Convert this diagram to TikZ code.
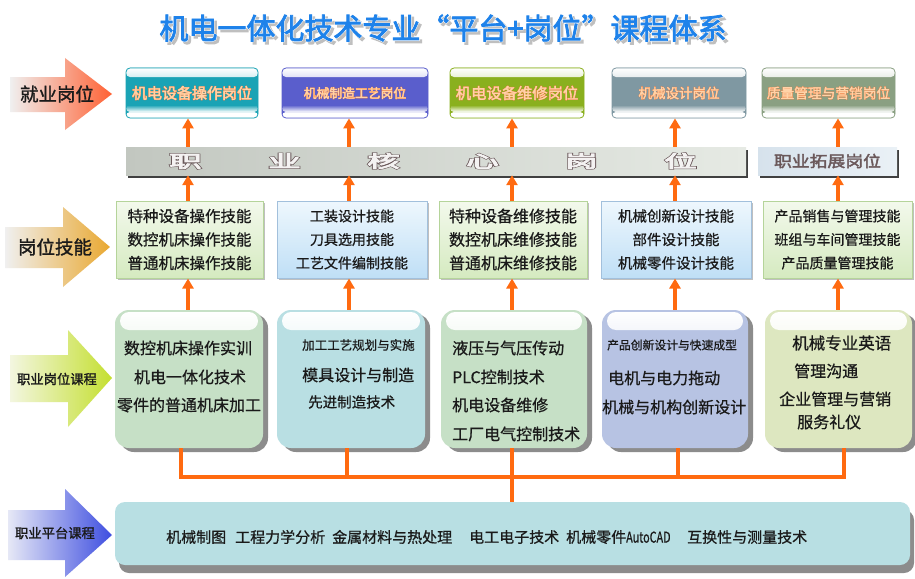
\documentclass[tikz,border=0pt]{standalone}
\usepackage{fontspec}
\usepackage{graphicx}
\setmainfont{Noto Sans CJK SC}
\newfontfamily\cjkb[FakeBold=1.4]{Noto Sans CJK SC}
\newfontfamily\cjkm[FakeBold=0.7]{Noto Sans CJK SC}
\newfontfamily\olJobD[FakeBold=5.5]{Noto Sans CJK SC}
\newfontfamily\olJobW[FakeBold=2]{Noto Sans CJK SC}
\newfontfamily\olCoreD[FakeBold=10]{Noto Sans CJK SC}
\newfontfamily\olCoreW[FakeBold=4.4]{Noto Sans CJK SC}
\newfontfamily\extfont[FakeBold=2.2]{Noto Sans CJK SC}
\newfontfamily\olTitleD[FakeBold=6]{Noto Sans CJK SC}
\newfontfamily\olTitle[FakeBold=2.6]{Noto Sans CJK SC}
\usetikzlibrary{arrows.meta,shadows}

\definecolor{ttl}{HTML}{1E82EA}
\definecolor{jteal}{HTML}{1AA3B5}
\definecolor{jpurp}{HTML}{5A5ECC}
\definecolor{jolive}{HTML}{8AB01E}
\definecolor{jgray}{HTML}{7F98A2}
\definecolor{jsage}{HTML}{8AA082}
\definecolor{jtxt}{HTML}{FFD3A8}
\definecolor{jout}{HTML}{EC7234}
\definecolor{org}{HTML}{FF6A10}
\definecolor{sgt}{HTML}{F3F9EC}
\definecolor{sgb}{HTML}{D5EAC0}
\definecolor{sgd}{HTML}{B5D49A}
\definecolor{sbt}{HTML}{EEF7FD}
\definecolor{sbb}{HTML}{BFDFF6}
\definecolor{sbd}{HTML}{A2C0DC}
\definecolor{cgreen}{HTML}{C6E0C6}
\definecolor{ccyan}{HTML}{B9DFE3}
\definecolor{clav}{HTML}{B7C3E3}
\definecolor{colive}{HTML}{DDE7C0}
\definecolor{pcyan}{HTML}{B8DFE3}
\definecolor{coreout}{HTML}{6A585A}
\definecolor{corefill}{HTML}{F4F2F2}
\definecolor{txt}{HTML}{1A1A1A}

\newcommand\fs[1]{\fontsize{#1}{#1}\selectfont}
% outline colour, outline font, fill colour, fill font, text
\newcommand\twolayer[5]{\rlap{\color{#1}#2#5}{\color{#3}#4#5}}
\newcommand\corech[1]{\makebox[99pt]{\scalebox{1.9}[1]{\twolayer{coreout}{\olCoreD}{corefill}{\olCoreW}{#1}}}}
\newcommand\jobtxt[1]{\twolayer{jout}{\olJobD}{jtxt}{\olJobW}{#1}}

\begin{document}
\begin{tikzpicture}[x=1pt,y=-1pt,
  lab/.style={text=txt, inner sep=0pt},
  jobbox/.style={draw=#1, line width=0.8pt, rounded corners=4pt,
    minimum height=50pt, inner sep=0pt, fill=#1,
    path picture={
      \fill[top color=white, bottom color=#1]
        (path picture bounding box.north west) rectangle
        ([yshift=-9pt]path picture bounding box.north east);
      \fill[white] (path picture bounding box.south west) rectangle
        ([yshift=6pt]path picture bounding box.south east);
      \fill[top color=#1, bottom color=white]
        ([yshift=13pt]path picture bounding box.south west) rectangle
        ([yshift=6pt]path picture bounding box.south east);
    }},
  skillg/.style={draw=sgd, line width=1pt, top color=sgt, bottom color=sgb,
    minimum height=77pt, inner sep=0pt, text=txt, align=center,
    drop shadow={shadow xshift=1.5pt, shadow yshift=-1.5pt, fill=black!25, opacity=1}},
  skillb/.style={draw=sbd, line width=1pt, top color=sbt, bottom color=sbb,
    minimum height=77pt, inner sep=0pt, text=txt, align=center,
    drop shadow={shadow xshift=1.5pt, shadow yshift=-1.5pt, fill=black!25, opacity=1}},
  cbox/.style={fill=#1, rounded corners=14pt, minimum height=138pt, inner sep=0pt,
    drop shadow={shadow xshift=5pt, shadow yshift=-4pt, fill=black!45, opacity=1},
    path picture={
      \fill[top color=white, bottom color=#1, rounded corners=9pt]
        ([xshift=5pt,yshift=-2pt]path picture bounding box.north west) rectangle
        ([xshift=-5pt,yshift=-20pt]path picture bounding box.north east);
    }},
  ctext/.style={text=txt, inner sep=0pt, font=\cjkm},
  uparr/.style={draw=org, line width=3.5pt, -{Triangle[width=11pt,length=10pt]}},
  bus/.style={draw=org, line width=4.5pt, line join=miter},
  ptext/.style={text=txt, inner sep=0pt, anchor=west, font=\cjkm\fs{15}}
]
\useasboundingbox (0,0) rectangle (915,578);
\fill[white] (0,0) rectangle (915,578);

% ---------- title ----------
\node[text=black!25, inner sep=0pt] (titlesh) at (445.5,30.5)
  {\olTitleD\fs{29}机电一体化技术专业“平台+岗位”课程体系};
\node[text=ttl, inner sep=0pt] (title) at (443,28)
  {\fs{29}\twolayer{white}{\olTitleD}{ttl}{\olTitle}{机电一体化技术专业“平台+岗位”课程体系}};

% ---------- left arrows ----------
\path[left color=black!6!white, right color=red!55!orange!80!white]
  (10,77) -- (65,77) -- (65,58) -- (112,94) -- (65,130) -- (65,112) -- (10,112) -- cycle;
\node[lab] (a1) at (57,94) {\cjkb\fs{18.5}就业岗位};

\path[left color=black!6!white, right color={rgb,255:red,233;green,168;blue,48}]
  (5,227) -- (63,227) -- (63,207) -- (110,247) -- (63,287) -- (63,268) -- (5,268) -- cycle;
\node[lab] (a2) at (55,247) {\cjkb\fs{18.5}岗位技能};

\path[left color={rgb,255:red,243;green,246;blue,224}, right color={rgb,255:red,196;green,223;blue,48}]
  (10,355) -- (68,355) -- (68,330) -- (112,378) -- (68,427) -- (68,402) -- (10,402) -- cycle;
\node[lab] (a3) at (57,379) {\cjkb\fs{13.3}职业岗位课程};

\path[left color={rgb,255:red,230;green,232;blue,246}, right color={rgb,255:red,62;green,78;blue,224}]
  (8,510) -- (65,510) -- (65,489) -- (112,535) -- (65,577) -- (65,560) -- (8,560) -- cycle;
\node[lab] (a4) at (55,533) {\cjkb\fs{13.3}职业平台课程};

% ---------- job boxes ----------
\node[jobbox=jteal, minimum width=132pt] (j1) at (192,93) {\fs{15}\jobtxt{机电设备操作岗位}};
\node[jobbox=jpurp, minimum width=146pt] (j2) at (355,93) {\fs{12.8}\jobtxt{机械制造工艺岗位}};
\node[jobbox=jolive, minimum width=134pt] (j3) at (517,93) {\fs{15.3}\jobtxt{机电设备维修岗位}};
\node[jobbox=jgray, minimum width=134pt] (j4) at (679,93) {\fs{13.5}\jobtxt{机械设计岗位}};
\node[jobbox=jsage, minimum width=133pt] (j5) at (828.5,93) {\fs{13.7}\jobtxt{质量管理与营销岗位}};

% ---------- core band ----------
\node[left color={rgb,255:red,194;green,199;blue,192}, right color={rgb,255:red,230;green,234;blue,228},
  minimum width=620pt, minimum height=28pt, inner sep=0pt,
  drop shadow={shadow xshift=2pt, shadow yshift=-3pt, fill=black!75, opacity=1}] (core) at (436,161) {};
\node[inner sep=0pt] (coretxt) at (433,161)
  {\fs{17}\corech{职}\corech{业}\corech{核}\corech{心}\corech{岗}\corech{位}};
\node[left color={rgb,255:red,214;green,226;blue,236}, right color={rgb,255:red,234;green,241;blue,246},
  minimum width=139pt, minimum height=28pt, inner sep=0pt, text=coreout,
  drop shadow={shadow xshift=2pt, shadow yshift=-3pt, fill=black!75, opacity=1}] (ext) at (827.5,161)
  {\extfont\fs{15.5}\scalebox{1.15}[1]{职业拓展岗位}};

% ---------- skill boxes ----------
\node[skillg, minimum width=147pt, font={\cjkm\fontsize{15.5}{23.5}\selectfont}] (s1) at (189.5,239.5)
  {特种设备操作技能\\数控机床操作技能\\普通机床操作技能};
\node[skillb, minimum width=150pt, font={\cjkm\fontsize{14}{23.5}\selectfont}] (s2) at (352,239.5)
  {工装设计技能\\刀具选用技能\\工艺文件编制技能};
\node[skillg, minimum width=148pt, font={\cjkm\fontsize{16}{23.5}\selectfont}] (s3) at (513,239.5)
  {特种设备维修技能\\数控机床维修技能\\普通机床维修技能};
\node[skillb, minimum width=150pt, font={\cjkm\fontsize{14.5}{23.5}\selectfont}] (s4) at (676,239.5)
  {机械创新设计技能\\部件设计技能\\机械零件设计技能};
\node[skillg, minimum width=149pt, font={\cjkm\fontsize{14}{23.5}\selectfont}] (s5) at (837.5,239.5)
  {产品销售与管理技能\\班组与车间管理技能\\产品质量管理技能};

% ---------- course boxes ----------
\node[cbox=cgreen, minimum width=148pt] (c1) at (189,379) {};
\node[cbox=ccyan,  minimum width=148pt] (c2) at (351,379) {};
\node[cbox=cgreen, minimum width=146pt] (c3) at (514,379) {};
\node[cbox=clav,   minimum width=146pt] (c4) at (675,379) {};
\node[cbox=colive, minimum width=147pt] (c5) at (838.5,379) {};

\node[ctext] (c1a) at (188,348) {\fs{16}数控机床操作实训};
\node[ctext] (c1b) at (190,377) {\fs{16}机电一体化技术};
\node[ctext] (c1c) at (189,405) {\fs{16}零件的普通机床加工};

\node[ctext, anchor=west] (c2a) at (302,345) {\fs{12.5}加工工艺规划与实施};
\node[ctext, anchor=west] (c2b) at (302,375) {\fs{16}模具设计与制造};
\node[ctext, anchor=west] (c2c) at (308,402) {\fs{14.5}先进制造技术};

\node[ctext, anchor=west] (c3a) at (452,348) {\fs{16}液压与气压传动};
\node[ctext, anchor=west] (c3b) at (452,377) {\fs{16}PLC控制技术};
\node[ctext, anchor=west] (c3c) at (452,405) {\fs{16}机电设备维修};
\node[ctext, anchor=west] (c3d) at (452,434) {\fs{16}工厂电气控制技术};

\node[ctext, anchor=west] (c4a) at (607,345) {\fs{11.8}产品创新设计与快速成型};
\node[ctext, anchor=west] (c4b) at (608,378) {\fs{16}电机与电力拖动};
\node[ctext, anchor=west] (c4c) at (602,407) {\fs{16}机械与机构创新设计};

\node[ctext, anchor=west] (c5a) at (792,343) {\fs{16.5}机械专业英语};
\node[ctext, anchor=west] (c5b) at (794,371) {\fs{16}管理沟通};
\node[ctext, anchor=west] (c5c) at (779,399) {\fs{16}企业管理与营销};
\node[ctext, anchor=west] (c5d) at (797,422) {\fs{16}服务礼仪};

% ---------- platform ----------
\node[fill=pcyan, rounded corners=10pt, minimum width=795pt, minimum height=63pt, inner sep=0pt,
  drop shadow={shadow xshift=4pt, shadow yshift=-8pt, fill=black!45, opacity=1}] (plat) at (512.5,533.5) {};
\node[ptext] (p1) at (166,537) {机械制图};
\node[ptext] (p2) at (235,537) {工程力学分析};
\node[ptext] (p3) at (332,537) {金属材料与热处理};
\node[ptext] (p4) at (469,537) {电工电子技术};
\node[ptext] (p5) at (566,537) {机械零件\scalebox{0.72}[1]{AutoCAD}};
\node[ptext] (p6) at (687,537) {互换性与测量技术};

% ---------- column coordinates ----------
\coordinate (k1) at (188,0);
\coordinate (k2) at (349,0);
\coordinate (k3) at (512,0);
\coordinate (k4) at (675,0);
\coordinate (k5) at (838,0);
\coordinate (b1) at (181,477);
\coordinate (b2) at (347,477);
\coordinate (b3) at (512,477);
\coordinate (b4) at (678,477);
\coordinate (b5) at (844,477);

% ---------- arrows ----------
\foreach \i in {1,2,3,4} {
  \draw[uparr] (core.north -| k\i) -- (j\i.south -| k\i);
}
\draw[uparr] (ext.north -| k5) -- (j5.south -| k5);
\foreach \i in {1,2,3,4} {
  \draw[uparr] (s\i.north -| k\i) -- (core.south -| k\i);
}
\draw[uparr] (s5.north -| k5) -- (ext.south -| k5);
\foreach \i in {1,2,3,4,5} {
  \draw[uparr] (c\i.north -| k\i) -- (s\i.south -| k\i);
}

% ---------- bus ----------
\draw[bus] (c1.south -| b1) -- (b1) -- (b5) -- (c5.south -| b5);
\draw[bus] (c2.south -| b2) -- (b2);
\draw[bus] (c3.south -| b3) -- (b3);
\draw[bus] (c4.south -| b4) -- (b4);
\draw[bus] (b3) -- (plat.north -| b3);
\end{tikzpicture}
\end{document}
